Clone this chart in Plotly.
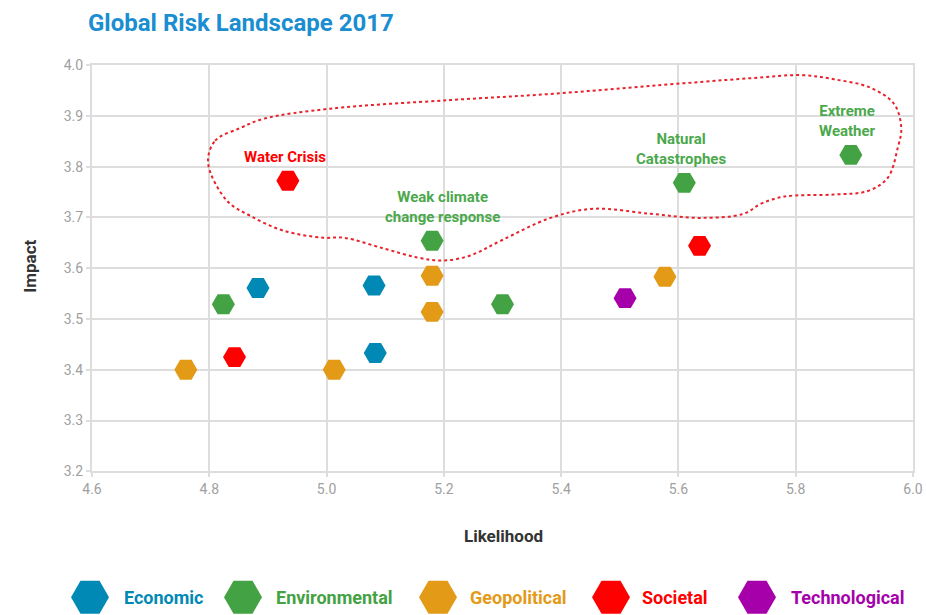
import plotly.graph_objects as go

# ---------------- data ----------------
categories = ["Economic", "Environmental", "Geopolitical", "Societal", "Technological"]
colors = ["#0089B4", "#43A243", "#E39A17", "#FF0000", "#A600AA"]

economic_x = [4.883, 5.081, 5.083]
economic_y = [3.561, 3.566, 3.433]

environmental_x = [4.824, 5.180, 5.300, 5.610, 5.894]
environmental_y = [3.529, 3.654, 3.529, 3.768, 3.823]

geopolitical_x = [4.760, 5.013, 5.180, 5.180, 5.577]
geopolitical_y = [3.400, 3.400, 3.585, 3.514, 3.583]

societal_x = [4.934, 4.843, 5.636]
societal_y = [3.772, 3.425, 3.644]

technological_x = [5.509]
technological_y = [3.541]

series_x = [economic_x, environmental_x, geopolitical_x, societal_x, technological_x]
series_y = [economic_y, environmental_y, geopolitical_y, societal_y, technological_y]

# labelled risks
label_texts = ["Water Crisis", "Weak climate<br>change response", "Natural<br>Catastrophes", "Extreme<br>Weather"]
label_x = [4.934, 5.180, 5.610, 5.894]
label_y = [3.772, 3.654, 3.768, 3.823]
label_colors = ["#FF0000", "#4CA84C", "#4CA84C", "#4CA84C"]

# dotted highlight outline (closed loop)
outline_x = [4.798, 4.810, 4.853, 4.892, 5.006, 5.211, 5.382, 5.553, 5.723, 5.809,
             5.865, 5.928, 5.968, 5.980, 5.974, 5.957, 5.923, 5.865, 5.780, 5.741,
             5.711, 5.638, 5.553, 5.455, 5.382, 5.297, 5.245, 5.199, 5.155, 5.097,
             5.029, 4.994, 4.926, 4.870, 4.830, 4.798]
outline_y = [3.807, 3.851, 3.876, 3.894, 3.914, 3.931, 3.943, 3.959, 3.974, 3.980,
             3.972, 3.955, 3.923, 3.876, 3.837, 3.778, 3.752, 3.745, 3.741, 3.727,
             3.707, 3.699, 3.707, 3.717, 3.699, 3.654, 3.625, 3.615, 3.621, 3.639,
             3.660, 3.660, 3.674, 3.703, 3.733, 3.807]

x_ticks = [4.6, 4.8, 5.0, 5.2, 5.4, 5.6, 5.8, 6.0]
y_ticks = [3.2, 3.3, 3.4, 3.5, 3.6, 3.7, 3.8, 3.9, 4.0]

# custom legend placement (pixel-like units on a helper axis)
legend_marker_pos = [90, 243, 438, 611, 757]
legend_text_pos = [122, 274, 468, 640, 789]

FONT = "Roboto"
VS = 0.9869  # vertical calibration of the rendered page


def dy(py):
    return py / VS


W, H = 926, 623
ML, MR, MT, MB = 55, 13, dy(64), 0
PLOT_L, PLOT_B = 92, dy(471)
LEGEND_Y = dy(597)
plot_w = W - ML - MR
plot_h = H - MT - MB
LEG_BAND = 60

fig = go.Figure()

fig.add_trace(go.Scatter(
    x=outline_x, y=outline_y, mode="lines",
    line=dict(color="#E8212B", width=2, dash="dot", shape="spline", smoothing=1.0),
    hoverinfo="skip", showlegend=False, xaxis="x", yaxis="y",
))

for name, col, xs, ys in zip(categories, colors, series_x, series_y):
    fig.add_trace(go.Scatter(
        x=xs, y=ys, mode="markers", name=name,
        marker=dict(symbol="hexagon2", size=23, color=col, line=dict(width=0)),
        showlegend=False, xaxis="x", yaxis="y",
    ))

# legend row drawn on helper axis (y measured in px up from figure bottom)
fig.add_trace(go.Scatter(
    x=legend_marker_pos, y=[H - LEGEND_Y] * len(legend_marker_pos), mode="markers",
    marker=dict(symbol="hexagon2", size=38, color=colors, line=dict(width=0)),
    cliponaxis=False, showlegend=False, hoverinfo="skip",
    xaxis="x2", yaxis="y2",
))

annotations = []
for t, x, y, c in zip(label_texts, label_x, label_y, label_colors):
    annotations.append(dict(
        x=x, y=y, xref="x", yref="y", text="<b>" + t + "</b>", showarrow=False,
        xanchor="center", yanchor="bottom", yshift=13, xshift=(10 if "Weak" in t else -3),
        font=dict(family=FONT, size=15, color=c), align="center",
    ))

for name, col, xp in zip(categories, colors, legend_text_pos):
    annotations.append(dict(
        x=xp, y=H - LEGEND_Y, xref="x2", yref="y2", text="<b>" + name + "</b>", showarrow=False,
        xanchor="left", yanchor="middle",
        font=dict(family=FONT, size=18, color=col),
    ))

# axis titles
annotations.append(dict(
    x=(503 - ML) / plot_w, y=(H - MB - dy(536)) / plot_h, xref="paper", yref="paper",
    text="<b>Likelihood</b>", showarrow=False, xanchor="center", yanchor="middle",
    font=dict(family=FONT, size=17, color="#333333"),
))
annotations.append(dict(
    x=(30 - ML) / plot_w, y=(H - MB - dy(266)) / plot_h, xref="paper", yref="paper",
    text="<b>Impact</b>", showarrow=False, xanchor="center", yanchor="middle", textangle=-90,
    font=dict(family=FONT, size=17, color="#333333"),
))

main_bottom = (H - MB - PLOT_B) / plot_h
main_left = (PLOT_L - ML) / plot_w

tickfont = dict(family=FONT, size=14, color="#A0A0A0")
fig.update_layout(
    width=W, height=H,
    margin=dict(l=ML, r=MR, t=MT, b=MB),
    paper_bgcolor="white", plot_bgcolor="white",
    title=dict(text="<b>Global Risk Landscape 2017</b>", x=88 / W, xanchor="left",
               xref="container", y=1 - dy(22) / H, yref="container", yanchor="middle",
               font=dict(family=FONT, size=24, color="#1A8ED0")),
    xaxis=dict(range=[4.6, 6.0], tickvals=x_ticks, tickformat=".1f", domain=[main_left, 1],
               showgrid=True, gridcolor="#DDDDDD", gridwidth=2,
               showline=True, linecolor="#DDDDDD", linewidth=2, mirror=True,
               ticks="outside", ticklen=4, tickcolor="#DDDDDD", tickwidth=2,
               zeroline=False, anchor="y", tickfont=tickfont),
    yaxis=dict(range=[3.2, 4.0], tickvals=y_ticks, tickformat=".1f", domain=[main_bottom, 1],
               showgrid=True, gridcolor="#DDDDDD", gridwidth=2,
               showline=True, linecolor="#DDDDDD", linewidth=2, mirror=True,
               ticks="outside", ticklen=4, tickcolor="#DDDDDD", tickwidth=2,
               zeroline=False, anchor="x", tickfont=tickfont),
    xaxis2=dict(range=[ML, W - MR], domain=[0, 1], visible=False, anchor="y2", fixedrange=True),
    yaxis2=dict(range=[MB, LEG_BAND], domain=[0, (LEG_BAND - MB) / plot_h], visible=False,
                anchor="x2", fixedrange=True),
    annotations=annotations,
    showlegend=False,
)

fig.write_html(
    "out.html",
    config={"displayModeBar": False},
    post_script="document.body.style.margin='0';document.body.style.padding='0';"
                "document.body.style.overflow='hidden';",
)
